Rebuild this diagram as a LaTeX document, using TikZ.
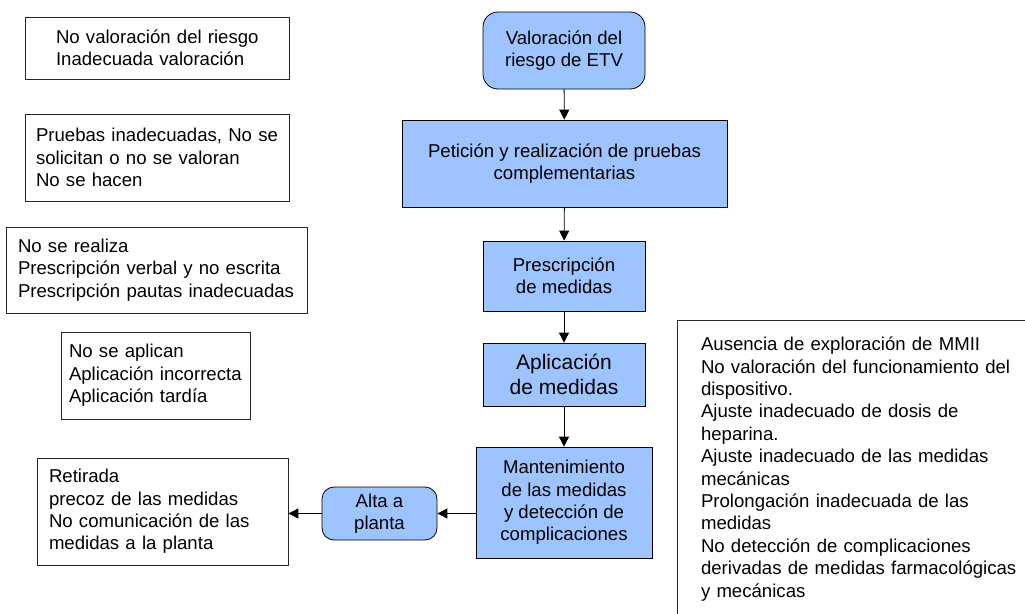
\documentclass[tikz,border=0pt]{standalone}
\usepackage{fontspec}
\setmainfont{Liberation Sans}
\usepackage{tikz}
\usetikzlibrary{arrows.meta}

\definecolor{azulpaso}{RGB}{158,196,255}

\tikzset{
    paso/.style={draw=black, line width=0.8pt, fill=azulpaso, align=center, inner sep=0pt,
        font=\fontsize{18.6}{22.4}\selectfont},
    fallo/.style={draw=black!85, line width=0.8pt, align=left, inner ysep=0pt,
        font=\fontsize{18.6}{22.4}\selectfont},
    flecha/.style={-{Triangle[length=10pt,width=10pt]}, line width=0.9pt}
}

\begin{document}
\begin{tikzpicture}[x=1pt,y=-1pt]
    \useasboundingbox (0,0) rectangle (1025,613);
    \clip (0,0) rectangle (1025,613);

    \node[paso, rounded corners=15pt, minimum width=162pt, minimum height=77pt] (valoracion) at (564,50.5) {Valoración del\\riesgo de ETV};
    \node[paso, minimum width=325pt, minimum height=87pt] (peticion) at (564.5,163.5) {Petición y realización de pruebas\\complementarias};
    \node[paso, minimum width=162pt, minimum height=70pt] (prescripcion) at (564,276) {Prescripción\\de medidas};
    \node[paso, minimum width=162pt, minimum height=63pt, font=\fontsize{21}{25}\selectfont] (aplicacion) at (564,374.5) {Aplicación\\de medidas};
    \node[paso, minimum width=176pt, minimum height=111pt] (mantenimiento) at (564,502.5) {Mantenimiento\\de las medidas\\y detección de\\complicaciones};
    \node[paso, rounded corners=12pt, minimum width=115pt, minimum height=53pt] (alta) at (379.5,513.5) {Alta a\\planta};

    \node[fallo, minimum width=264pt, minimum height=62pt, text width=210pt, inner xsep=27pt] (fvaloracion) at (157,48) {\hspace*{4pt}No valoración del riesgo\\\hspace*{4pt}Inadecuada valoración};
    \node[fallo, minimum width=264pt, minimum height=87pt, text width=242pt, inner xsep=11pt] (fpruebas) at (157,157.5) {Pruebas inadecuadas, No se\\solicitan o no se valoran\\No se hacen};
    \node[fallo, minimum width=301pt, minimum height=86pt, text width=277pt, inner xsep=12pt] (fprescripcion) at (156.5,270) {No se realiza\\Prescripción verbal y no escrita\\Prescripción pautas inadecuadas};
    \node[fallo, minimum width=189pt, minimum height=87pt, text width=173pt, inner xsep=8pt] (faplicacion) at (155.5,375.5) {No se aplican\\Aplicación incorrecta\\Aplicación tardía};
    \node[fallo, minimum width=251pt, minimum height=107pt, text width=227pt, inner xsep=12pt] (fretirada) at (162.5,511.5) {Retirada\\precoz de las medidas\\No comunicación de las\\medidas a la planta};
    \node[fallo, minimum width=378pt, minimum height=298pt, text width=330pt, inner xsep=24pt] (fmantenimiento) at (866,469) {Ausencia de exploración de MMII\\No valoración del funcionamiento del\\dispositivo.\\Ajuste inadecuado de dosis de\\heparina.\\Ajuste inadecuado de las medidas\\mecánicas\\Prolongación inadecuada de las\\medidas\\No detección de complicaciones\\derivadas de medidas farmacológicas\\y mecánicas};

    \draw[flecha] (valoracion) -- (peticion);
    \draw[flecha] (peticion) -- (prescripcion);
    \draw[flecha] (prescripcion) -- (aplicacion);
    \draw[flecha] (aplicacion) -- (mantenimiento);
    \draw[flecha] (mantenimiento.west |- alta.east) -- (alta.east);
    \draw[flecha] (alta.west) -- (fretirada.east |- alta.west);
\end{tikzpicture}
\end{document}
